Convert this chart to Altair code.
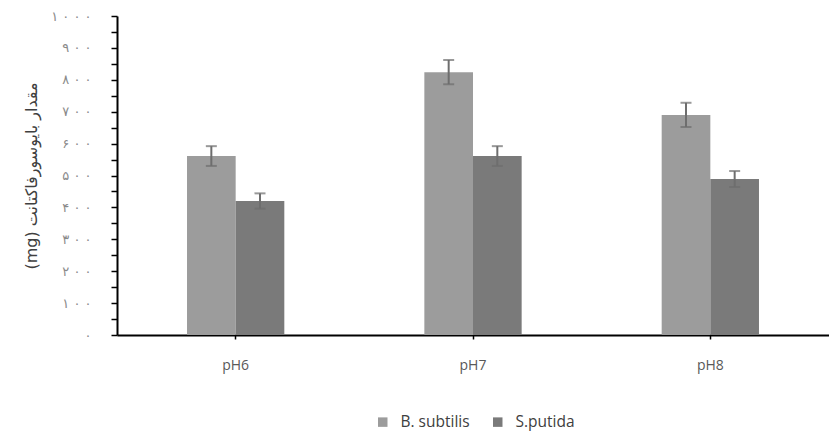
import altair as alt
import pandas as pd

categories = ["pH6", "pH7", "pH8"]
series = ["B. subtilis", "S.putida"]
b_subtilis = [561, 824, 690]
b_subtilis_err = [31, 38, 38]
s_putida = [420, 561, 489]
s_putida_err = [24, 31, 25]

tick_values = list(range(0, 1001, 50))
label_values = list(range(0, 1001, 100))

fa = str.maketrans("0123456789", "۰۱۲۳۴۵۶۷۸۹")
def fa_label(v):
    return " ".join(str(v).translate(fa))

label_expr = " : ".join(
    f"datum.value == {v} ? '{fa_label(v)}'" for v in label_values
) + " : ''"

rows = []
for i, c in enumerate(categories):
    rows.append({"category": c, "series": series[0], "value": b_subtilis[i], "err": b_subtilis_err[i]})
    rows.append({"category": c, "series": series[1], "value": s_putida[i], "err": s_putida_err[i]})
df = pd.DataFrame(rows)
df["lo"] = df["value"] - df["err"]
df["hi"] = df["value"] + df["err"]

x_axis = alt.Axis(
    title=None, labelAngle=0, labelFontSize=14, labelColor="#595959",
    labelFont="Open Sans", labelPadding=19, tickSize=4, tickColor="#000000",
    tickWidth=1.5, domainColor="#000000", domainWidth=2,
)
x_scale = alt.Scale(paddingInner=0.59, paddingOuter=0.295)
y_axis = alt.Axis(
    title="(mg) مقدار بایوسورفاکتانت",
    titleFont="DejaVu Sans", titleFontSize=16, titleFontWeight="normal",
    titleColor="#404040", titlePadding=11,
    values=tick_values, labelExpr=label_expr, labelFontSize=13,
    labelOverlap=False,
    labelColor="#8a8a8a", labelFont="DejaVu Sans", labelPadding=20,
    tickSize=6, tickColor="#000000", tickWidth=1.5,
    domainColor="#000000", domainWidth=2, grid=False,
)
y_scale = alt.Scale(domain=[0, 1000], nice=False)

def xe():
    return alt.X("category:N", sort=categories, scale=x_scale, axis=x_axis)

xo_enc = alt.XOffset("series:N", sort=series, scale=alt.Scale(paddingInner=0, paddingOuter=0))

bars = alt.Chart(df).mark_bar().encode(
    x=xe(),
    xOffset=xo_enc,
    y=alt.Y("value:Q", scale=y_scale, axis=y_axis),
    color=alt.Color(
        "series:N",
        sort=series,
        scale=alt.Scale(domain=series, range=["#9c9c9c", "#7a7a7a"]),
        legend=alt.Legend(
            title=None, orient="none", direction="horizontal",
            legendX=258, legendY=398,
            symbolType="square", symbolSize=90, symbolStrokeWidth=0,
            labelFontSize=15.5, labelColor="#404040", labelFont="Open Sans",
            labelOffset=10, columnPadding=20,
        ),
    ),
)

err = alt.Chart(df).mark_rule(color="#6e6e6e", strokeWidth=2).encode(
    x=xe(),
    xOffset=xo_enc,
    y=alt.Y("lo:Q", scale=y_scale, axis=y_axis),
    y2="hi:Q",
)
cap_lo = alt.Chart(df).mark_tick(color="#6e6e6e", thickness=2, size=11).encode(
    x=xe(),
    xOffset=xo_enc,
    y=alt.Y("lo:Q", scale=y_scale, axis=y_axis),
)
cap_hi = alt.Chart(df).mark_tick(color="#6e6e6e", thickness=2, size=11).encode(
    x=xe(),
    xOffset=xo_enc,
    y=alt.Y("hi:Q", scale=y_scale, axis=y_axis),
)

chart = alt.layer(bars, err, cap_lo, cap_hi).properties(
    width=712, height=319,
    padding={"left": 15, "top": 2, "right": 0, "bottom": 2},
    background="#ffffff",
).configure_view(stroke=None)

chart.save("out.html", embed_options={"renderer": "svg", "actions": False})
